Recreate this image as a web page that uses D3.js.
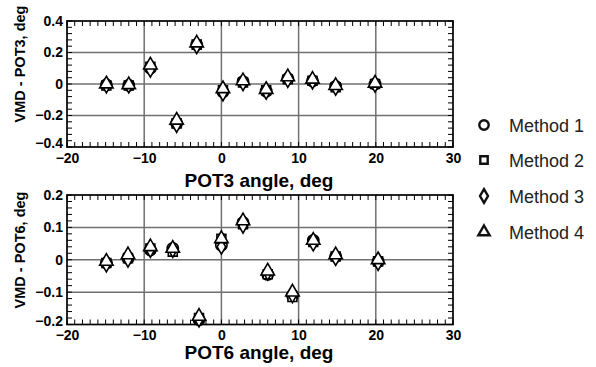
<!DOCTYPE html>
<html>
<head>
<meta charset="utf-8">
<script src="https://cdn.jsdelivr.net/npm/d3@7"></script>
<style>
  html, body { margin: 0; padding: 0; background: #fff; }
  svg { display: block; font-family: "Liberation Sans", Arial, sans-serif; }
</style>
</head>
<body>
<svg id="chart" width="596" height="367"></svg>
<script>
// ---- data ----
const methodNames = ["Method 1", "Method 2", "Method 3", "Method 4"];

const pot3Angle = [-14.9, -12.0, -9.2, -5.8, -3.2, 0.2, 2.8, 5.8, 8.6, 11.8, 14.8, 19.9];
const pot3M1 = [-0.005, -0.008, 0.10, -0.25, 0.25, -0.05, 0.015, -0.045, 0.035, 0.02, -0.015, 0.0];
const pot3M2 = [-0.01, -0.01, 0.11, -0.25, 0.25, -0.04, 0.01, -0.04, 0.03, 0.02, -0.02, 0.0];
const pot3M3 = [-0.01, -0.01, 0.09, -0.26, 0.24, -0.06, 0.005, -0.05, 0.025, 0.015, -0.025, -0.005];
const pot3M4 = [0.0, -0.005, 0.12, -0.23, 0.26, -0.03, 0.02, -0.035, 0.045, 0.03, -0.01, 0.005];

const pot6Angle = [-14.9, -12.1, -9.2, -6.3, -2.9, 0.0, 2.8, 6.0, 9.2, 11.9, 14.8, 20.3];
const pot6M1 = [-0.01, 0.005, 0.03, 0.035, -0.185, 0.045, 0.115, -0.045, -0.11, 0.06, 0.01, -0.005];
const pot6M2 = [-0.01, 0.005, 0.035, 0.025, -0.18, 0.065, 0.11, -0.045, -0.115, 0.055, 0.01, -0.005];
const pot6M3 = [-0.015, 0.0, 0.03, 0.03, -0.185, 0.04, 0.105, -0.04, -0.11, 0.05, 0.005, -0.01];
const pot6M4 = [-0.005, 0.015, 0.04, 0.035, -0.175, 0.065, 0.12, -0.035, -0.10, 0.06, 0.015, 0.0];

const xTicks = [-20, -10, 0, 10, 20, 30];
const pot3YTicks = [-0.4, -0.2, 0, 0.2, 0.4];
const pot6YTicks = [-0.2, -0.1, 0, 0.1, 0.2];

// ---- drawing ----
const svg = d3.select("#chart");

const shapes = [d3.symbolCircle, d3.symbolSquare, d3.symbolDiamond, d3.symbolTriangle];
const plotSizes = [100, 80, 62, 78];
const legendSizes = [70, 55, 55, 55];

function panel(cfg) {
  const { left, right, top, bottom, xs, series, yDomain, yTicks, yMinorStep, yFmt,
          xTitle, yTitle, xTitleY, yTitleCenter } = cfg;
  const x = d3.scaleLinear().domain([-20, 30]).range([left, right]);
  const y = d3.scaleLinear().domain(yDomain).range([bottom, top]);
  const g = svg.append("g");

  // grid lines at the major ticks
  g.append("g").selectAll("line").data(xTicks.slice(1, -1)).join("line")
    .attr("x1", d => x(d)).attr("x2", d => x(d)).attr("y1", top).attr("y2", bottom)
    .attr("stroke", "#707070").attr("stroke-width", 1.5);
  g.append("g").selectAll("line").data(yTicks.slice(1, -1)).join("line")
    .attr("x1", left).attr("x2", right).attr("y1", d => y(d)).attr("y2", d => y(d))
    .attr("stroke", "#707070").attr("stroke-width", 1.5);

  // inward minor ticks on all four sides
  const xMinor = d3.range(-20, 30.001, 1);
  const yMinor = d3.range(yDomain[0], yDomain[1] + 1e-9, yMinorStep);
  const tl = 5;
  const mt = g.append("g").attr("stroke", "#000").attr("stroke-width", 1);
  mt.append("g").selectAll("line").data(xMinor).join("line")
    .attr("x1", d => x(d)).attr("x2", d => x(d)).attr("y1", bottom).attr("y2", bottom - tl);
  mt.append("g").selectAll("line").data(xMinor).join("line")
    .attr("x1", d => x(d)).attr("x2", d => x(d)).attr("y1", top).attr("y2", top + tl);
  mt.append("g").selectAll("line").data(yMinor).join("line")
    .attr("x1", left).attr("x2", left + tl).attr("y1", d => y(d)).attr("y2", d => y(d));
  mt.append("g").selectAll("line").data(yMinor).join("line")
    .attr("x1", right).attr("x2", right - tl).attr("y1", d => y(d)).attr("y2", d => y(d));

  // frame
  g.append("rect").attr("x", left).attr("y", top).attr("width", right - left).attr("height", bottom - top)
    .attr("fill", "none").attr("stroke", "#000").attr("stroke-width", 1.7);

  // axes (labels only; ticks are drawn above)
  const xAxis = d3.axisBottom(x).tickValues(xTicks).tickSize(0).tickPadding(6).tickFormat(d3.format("d"));
  const yAxis = d3.axisLeft(y).tickValues(yTicks).tickSize(0).tickPadding(4).tickFormat(yFmt);
  const xa = g.append("g").attr("transform", `translate(0,${bottom})`).call(xAxis);
  const ya = g.append("g").attr("transform", `translate(${left},0)`).call(yAxis);
  [xa, ya].forEach(a => {
    a.select(".domain").remove();
    a.selectAll("text").attr("font-family", "Liberation Sans, Arial, sans-serif")
      .attr("font-size", 14).attr("font-weight", "bold").attr("fill", "#000");
  });
  // lowest value label sits a touch higher so it clears the first x label
  ya.selectAll(".tick").filter(d => d === yDomain[0]).select("text").attr("dy", "0.05em");

  // axis titles
  g.append("text").attr("x", 259).attr("y", xTitleY)
    .attr("text-anchor", "middle").attr("font-size", 19).attr("font-weight", "bold").text(xTitle);
  g.append("text").attr("transform", `translate(25,${yTitleCenter}) rotate(-90)`)
    .attr("text-anchor", "middle").attr("font-size", 14.5).attr("font-weight", "bold").text(yTitle);

  // markers: one layer per method, triangle on top
  series.forEach((vals, i) => {
    g.append("g").selectAll("path").data(xs.map((xv, j) => [xv, vals[j]])).join("path")
      .attr("d", d3.symbol().type(shapes[i]).size(plotSizes[i]))
      .attr("transform", d => `translate(${x(d[0])},${y(d[1])})`)
      .attr("fill", "#fff").attr("stroke", "#000").attr("stroke-width", 1.6);
  });
}

panel({
  left: 67, right: 453, top: 21, bottom: 147,
  xs: pot3Angle, series: [pot3M1, pot3M2, pot3M3, pot3M4],
  yDomain: [-0.4, 0.4], yTicks: pot3YTicks, yMinorStep: 0.04,
  yFmt: d => d === 0 ? "0" : d3.format(".1f")(d),
  xTitle: "POT3 angle, deg", yTitle: "VMD - POT3, deg", xTitleY: 187, yTitleCenter: 64
});

panel({
  left: 67, right: 453, top: 195, bottom: 324.5,
  xs: pot6Angle, series: [pot6M1, pot6M2, pot6M3, pot6M4],
  yDomain: [-0.2, 0.2], yTicks: pot6YTicks, yMinorStep: 0.02,
  yFmt: d => d === 0 ? "0" : d3.format(".1f")(d),
  xTitle: "POT6 angle, deg", yTitle: "VMD - POT6, deg", xTitleY: 359, yTitleCenter: 250
});

// legend
const legendY = [125, 160, 196, 232];
const lg = svg.append("g");
methodNames.forEach((name, i) => {
  lg.append("path").attr("d", d3.symbol().type(shapes[i]).size(legendSizes[i]))
    .attr("transform", `translate(484,${legendY[i]})`)
    .attr("fill", "#fff").attr("stroke", "#111").attr("stroke-width", 2.4);
  lg.append("text").attr("x", 509).attr("y", legendY[i] + 6.5)
    .attr("font-size", 18).attr("fill", "#222").text(name);
});
</script>
</body>
</html>
